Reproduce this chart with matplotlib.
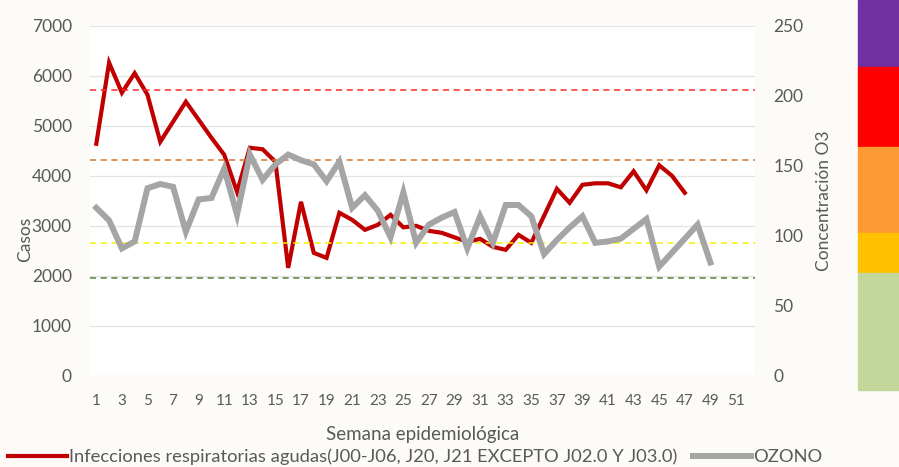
import matplotlib.pyplot as plt
from matplotlib.patches import Rectangle

# semanas 1..52 (solo se rotulan las impares)
semanas = list(range(1, 53))
etiquetas = [str(s) if s % 2 == 1 else "" for s in semanas]

# casos de IRA por semana (1..47)
casos = [4640, 6260, 5660, 6050, 5620, 4680, 5080, 5480, 5120, 4760,
         4420, 3680, 4560, 4530, 4280, 2160, 3480, 2460, 2360, 3260,
         3120, 2920, 3020, 3220, 2970, 3000, 2900, 2860, 2770, 2680,
         2740, 2580, 2520, 2820, 2660, 3200, 3740, 3460, 3820, 3850,
         3850, 3770, 4090, 3710, 4210, 4000, 3660]

# ozono por semana (1..49)
ozono = [120, 111, 91, 96, 134, 137, 135, 103, 126, 127,
         148, 115, 158, 140, 151, 158, 154, 151, 139, 153,
         120, 129, 118, 99, 131, 95, 108, 113, 117, 91,
         114, 95, 122, 122, 114, 87, 97, 106, 114, 95,
         96, 98, 105, 112, 78, 88, 98, 108, 81]

# umbrales de ozono (lineas punteadas)
umbrales = [70, 95, 154, 204]
colores_umbral = ["#548235", "#F2F200", "#D4742C", "#FF2A2A"]

# bandas de color a la derecha (arriba -> abajo)
bandas_col = ["#7030A0", "#FF0000", "#FF9933", "#FFC000", "#C4D79B"]
bandas_px = [(0, 67), (67, 147), (147, 233), (233, 273), (273, 390)]

GRIS = "#595959"
plt.rcParams['font.family'] = ['Lato', 'DejaVu Sans']

fig = plt.figure(figsize=(8.99, 4.67), dpi=100)
fig.patch.set_facecolor("#FDFBF8")
ax = fig.add_axes([0.100, 0.195, 0.740, 0.750])
ax.set_facecolor("white")
ax2 = ax.twinx()

W, H = 899, 467
for col, (y0, y1) in zip(bandas_col, bandas_px):
    fig.patches.append(Rectangle((858 / W, 1 - y1 / H), 41 / W, (y1 - y0) / H,
                                 transform=fig.transFigure, color=col, zorder=0))

ax.set_ylim(0, 7000)
ax2.set_ylim(0, 250)
ax.set_xlim(0.5, 52.5)
ax.set_yticks(range(0, 7001, 1000))
ax2.set_yticks(range(0, 251, 50))
ax.grid(axis="y", color="#E3E3E3", lw=0.9)
ax.set_axisbelow(True)

for u, c in zip(umbrales, colores_umbral):
    ax2.axhline(u, color=c, ls=(0, (4, 3)), lw=1.1, zorder=1)

ax.plot(semanas[:len(casos)], casos, color="#C00000", lw=3, zorder=3,
        solid_joinstyle="miter",
        label="Infecciones respiratorias agudas(J00-J06, J20, J21 EXCEPTO J02.0 Y J03.0)")
ax2.plot(semanas[:len(ozono)], ozono, color="#A5A5A5", lw=4.3, zorder=4,
         solid_joinstyle="miter", label="OZONO")

ax.set_xticks(semanas)
ax.set_xticklabels(etiquetas)

for a in (ax, ax2):
    for s in a.spines.values():
        s.set_visible(False)
    a.tick_params(length=0, colors=GRIS, labelsize=12.5)
ax.tick_params(axis="y", pad=13)
ax2.tick_params(axis="y", pad=13)
ax.tick_params(axis="x", pad=13, labelsize=11)

ax.set_ylabel("Casos", color=GRIS, fontsize=12.5)
ax.yaxis.set_label_coords(-0.086, 0.39)
ax2.set_ylabel("Concentración O3", color=GRIS, fontsize=12.5)
ax2.yaxis.set_label_coords(1.092, 0.50)
ax.set_xlabel("Semana epidemiológica", color=GRIS, fontsize=13.5, labelpad=13)

h1, l1 = ax.get_legend_handles_labels()
h2, l2 = ax2.get_legend_handles_labels()
fig.legend(h1 + h2, l1 + l2, loc="center", bbox_to_anchor=(0.462, 0.022),
           ncol=2, frameon=False, fontsize=13.2, labelcolor=GRIS,
           handlelength=3.2, handletextpad=0.1, columnspacing=0.85)

fig.savefig("out.png", dpi=100, facecolor=fig.get_facecolor())
